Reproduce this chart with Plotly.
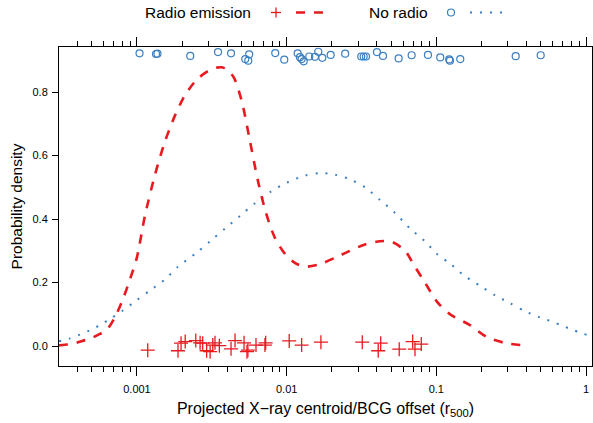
import plotly.graph_objects as go

# ---------------- data ----------------
radio_x = [0.00118, 0.00188, 0.00197, 0.00210, 0.00247, 0.00264, 0.00275, 0.00292,
           0.00308, 0.00321, 0.00332, 0.00355, 0.00425, 0.00452, 0.00519, 0.00543,
           0.00551, 0.00624, 0.00716, 0.00724, 0.01040, 0.01259, 0.01694, 0.0320,
           0.0425, 0.0409, 0.0565, 0.0695, 0.0720, 0.0793]
radio_y = [-0.013, -0.015, 0.009, 0.014, 0.017, 0.010, 0.009, -0.015,
           -0.018, 0.003, 0.010, 0.001, -0.009, 0.017, 0.010, -0.018,
           -0.013, 0.003, 0.003, 0.010, 0.016, 0.003, 0.012, 0.012,
           0.009, -0.015, -0.010, 0.014, -0.010, 0.006]

noradio_x = [0.00104, 0.00134, 0.00137, 0.00227, 0.00348, 0.00425, 0.00562, 0.00529,
             0.00554, 0.00839, 0.00964, 0.01184, 0.01227, 0.01259, 0.01300, 0.01416,
             0.01545, 0.01626, 0.01730, 0.01968, 0.0246, 0.0315, 0.0327, 0.0339,
             0.0401, 0.0440, 0.0560, 0.0684, 0.0879, 0.1062, 0.1219, 0.1233,
             0.1445, 0.339, 0.498]
noradio_y = [0.922, 0.920, 0.921, 0.914, 0.926, 0.922, 0.919, 0.904,
             0.899, 0.923, 0.902, 0.922, 0.910, 0.904, 0.897, 0.912,
             0.911, 0.927, 0.908, 0.917, 0.921, 0.912, 0.912, 0.912,
             0.926, 0.914, 0.906, 0.916, 0.917, 0.909, 0.903, 0.899,
             0.904, 0.913, 0.916]

radio_dens_x = [0.000301, 0.000330, 0.000368, 0.000430, 0.000486, 0.000566, 0.000631,
                0.000714, 0.000794, 0.000898, 0.001, 0.00113, 0.00132, 0.00154,
                0.00179, 0.00209, 0.00252, 0.00303, 0.00342, 0.00370, 0.00406,
                0.00445, 0.00502, 0.00569, 0.00643, 0.00727, 0.00836, 0.00975,
                0.01135, 0.01325, 0.01668,
                0.02103, 0.0265, 0.0334, 0.0420, 0.0505, 0.0617, 0.0719, 0.0839,
                0.1009, 0.1233, 0.1676, 0.2178, 0.2917, 0.4027]
radio_dens_y = [0.002, 0.004, 0.006, 0.016, 0.023, 0.038, 0.052,
                0.092, 0.14, 0.21, 0.28, 0.41, 0.54, 0.645,
                0.725, 0.79, 0.84, 0.868, 0.877, 0.878, 0.868,
                0.845, 0.77, 0.645, 0.52, 0.42, 0.34, 0.29,
                0.262, 0.25, 0.258,
                0.278, 0.30, 0.32, 0.33, 0.328, 0.30, 0.25, 0.20,
                0.14, 0.10, 0.066, 0.028, 0.009, 0.001]

noradio_dens_x = [0.000301, 0.000356, 0.000416, 0.000486, 0.000566, 0.000660, 0.000794,
                  0.001, 0.00122, 0.00154, 0.00188, 0.00244, 0.00308, 0.00387,
                  0.00488, 0.00614, 0.00774, 0.01004, 0.01325, 0.01668, 0.02103,
                  0.0265, 0.0334, 0.0420, 0.0528, 0.0667, 0.0839, 0.1009, 0.1233,
                  0.1552, 0.1955, 0.2461, 0.3103, 0.3908, 0.4921, 0.601, 0.701,
                  0.805, 0.939, 1.112]
noradio_dens_y = [0.015, 0.024, 0.036, 0.050, 0.066, 0.085, 0.11,
                  0.145, 0.175, 0.21, 0.25, 0.29, 0.33, 0.37,
                  0.41, 0.45, 0.485, 0.515, 0.537, 0.545, 0.54,
                  0.525, 0.50, 0.46, 0.42, 0.37, 0.33, 0.29, 0.26,
                  0.22, 0.19, 0.16, 0.135, 0.11, 0.09, 0.076, 0.063,
                  0.052, 0.040, 0.030]

x_major_vals = [0.001, 0.01, 0.1, 1]
x_major_text = ["0.001", "0.01", "0.1", "1"]
x_minor_vals = [k * 10.0 ** e for e in range(-4, 1) for k in range(2, 10)]
y_tick_vals = [0.0, 0.2, 0.4, 0.6, 0.8]
y_tick_text = ["0.0", "0.2", "0.4", "0.6", "0.8"]

group_names = ["Radio emission", "No radio"]

# ---------------- styling ----------------
RED = "#E8191F"
BLUE = "#3B7FC0"
FONT = "Liberation Sans, Arial, sans-serif"

W, H = 593, 423
L, R, T, B = 59, 1, 47, 57
x_range = [-3.521, 0.04]
y_range = [-0.063, 0.942]

fig = go.Figure()

fig.add_trace(go.Scatter(x=noradio_dens_x, y=noradio_dens_y, mode="lines",
                         line=dict(color=BLUE, width=2, dash="2px,8px", shape="spline",
                                   smoothing=0.8),
                         showlegend=False, hoverinfo="skip"))
fig.add_trace(go.Scatter(x=radio_dens_x, y=radio_dens_y, mode="lines",
                         line=dict(color=RED, width=2.6, dash="9px,9px", shape="spline",
                                   smoothing=0.8),
                         showlegend=False, hoverinfo="skip"))
fig.add_trace(go.Scatter(x=radio_x, y=radio_y, mode="markers",
                         marker=dict(symbol="cross-thin-open", size=10, color=RED,
                                     line=dict(color=RED, width=1.3)),
                         showlegend=False))
fig.add_trace(go.Scatter(x=noradio_x, y=noradio_y, mode="markers",
                         marker=dict(symbol="circle-open", size=7, color=BLUE,
                                     line=dict(color=BLUE, width=1.2)),
                         showlegend=False))
# invisible trace to carry the top axis
fig.add_trace(go.Scatter(x=[0.01], y=[0.5], xaxis="x2", mode="markers",
                         marker=dict(opacity=0), showlegend=False, hoverinfo="skip"))

axis_common = dict(showgrid=False, zeroline=False, color="black", automargin=False)

fig.update_layout(
    width=W, height=H,
    margin=dict(l=L, r=R, t=T, b=B),
    plot_bgcolor="white", paper_bgcolor="white",
    font=dict(family=FONT, color="black", size=12),
    xaxis=dict(type="log", range=x_range, tickmode="array",
               tickvals=x_major_vals, ticktext=x_major_text,
               ticks="outside", ticklen=9, tickwidth=1, tickcolor="black",
               minor=dict(tickmode="array", tickvals=x_minor_vals, ticks="outside",
                          ticklen=5, tickwidth=1, tickcolor="black"),
               showline=True, linecolor="black", linewidth=1, mirror=True,
               tickfont=dict(size=11, family=FONT), ticklabelstandoff=4,
               title=dict(text="Projected X\u2212ray centroid/BCG offset (r<sub>500</sub>)",
                          font=dict(size=16, family=FONT), standoff=8),
               **axis_common),
    xaxis2=dict(type="log", range=x_range, overlaying="x", side="top",
                tickmode="array", tickvals=x_major_vals, showticklabels=False,
                ticks="outside", ticklen=9, tickwidth=1, tickcolor="black",
                minor=dict(tickmode="array", tickvals=x_minor_vals, ticks="outside",
                           ticklen=5, tickwidth=1, tickcolor="black"),
                showline=False, **axis_common),
    yaxis=dict(range=y_range, tickmode="array", tickvals=y_tick_vals,
               ticktext=y_tick_text, ticks="outside", ticklen=6, tickwidth=1,
               tickcolor="black", showline=True, linecolor="black", linewidth=1,
               mirror=True, tickfont=dict(size=11, family=FONT), ticklabelstandoff=2,
               title=dict(text="Probability density", font=dict(size=15.5, family=FONT),
                          standoff=6),
               **axis_common),
    showlegend=False,
)

# ---------------- manual key (lattice style: text, point, line) ----------------
pw = W - L - R
ph = H - T - B

def px2paper(px, py):
    return (px - L) / pw, (H - B - py) / ph

key_y = 12.5
annotations = []
shapes = []

tx, ty = px2paper(253, key_y)
annotations.append(dict(x=tx, y=ty, xref="paper", yref="paper", text=group_names[0],
                        showarrow=False, xanchor="right", yanchor="middle",
                        font=dict(size=15.5, family=FONT, color="black")))
tx, ty = px2paper(430, key_y)
annotations.append(dict(x=tx, y=ty, xref="paper", yref="paper", text=group_names[1],
                        showarrow=False, xanchor="right", yanchor="middle",
                        font=dict(size=15.5, family=FONT, color="black")))

# key point symbols, drawn as pixel-sized shapes anchored in paper space
cx, cy = px2paper(276, key_y)
for (dx0, dy0, dx1, dy1) in [(-5, 0, 5, 0), (0, -5, 0, 5)]:
    shapes.append(dict(type="line", xref="paper", yref="paper",
                       xsizemode="pixel", ysizemode="pixel", xanchor=cx, yanchor=cy,
                       x0=dx0, x1=dx1, y0=dy0, y1=dy1,
                       line=dict(color=RED, width=1.3)))
cx, cy = px2paper(451, key_y)
shapes.append(dict(type="circle", xref="paper", yref="paper",
                   xsizemode="pixel", ysizemode="pixel", xanchor=cx, yanchor=cy,
                   x0=-3.5, x1=3.5, y0=-3.5, y1=3.5,
                   line=dict(color=BLUE, width=1.2)))

x0, y0 = px2paper(296, key_y)
x1, _ = px2paper(325, key_y)
shapes.append(dict(type="line", xref="paper", yref="paper", x0=x0, x1=x1, y0=y0, y1=y0,
                   line=dict(color=RED, width=2.6, dash="9px,9px")))
x0, y0 = px2paper(470, key_y)
x1, _ = px2paper(503, key_y)
shapes.append(dict(type="line", xref="paper", yref="paper", x0=x0, x1=x1, y0=y0, y1=y0,
                   line=dict(color=BLUE, width=2, dash="2px,8px")))

fig.update_layout(annotations=annotations, shapes=shapes)

fig.write_html("out.html", config={"displayModeBar": False},
               post_script="document.body.style.margin='0';document.body.style.padding='0';")
